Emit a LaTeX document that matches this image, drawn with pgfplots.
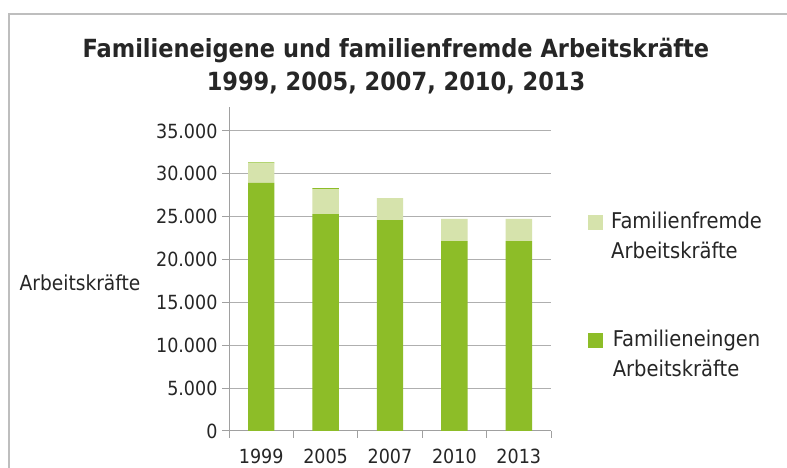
\documentclass[border=0pt]{standalone}
\usepackage{pgfplots}
\pgfplotsset{compat=1.18}
\usepackage{fontspec}
\setmainfont{DejaVu Sans Condensed}[BoldFont={DejaVu Sans Condensed Bold}]
\definecolor{darkg}{RGB}{141,189,40}
\definecolor{lightg}{RGB}{214,227,172}
\definecolor{gridc}{RGB}{175,175,175}
\definecolor{axc}{RGB}{160,160,160}
\definecolor{framec}{RGB}{190,190,190}
\definecolor{txt}{RGB}{38,38,38}
\begin{document}
\begin{tikzpicture}[x=1pt,y=1pt]
\clip (0,0) rectangle (787,468);
\fill[white] (0,0) rectangle (787,468);
\draw[framec, line width=1.6pt] (9,-20) rectangle (820,454);
\node[txt, font=\fontsize{25}{29}\selectfont\bfseries] at (396,417) {Familieneigene und familienfremde Arbeitskräfte};
\node[txt, font=\fontsize{25}{29}\selectfont\bfseries] at (396,385) {1999, 2005, 2007, 2010, 2013};
\node[txt, font=\fontsize{20.7}{24}\selectfont] at (80,185) {Arbeitskräfte};
\begin{axis}[
  at={(229pt,37pt)}, anchor=south west,
  scale only axis, width=322pt, height=324.1pt,
  xmin=-0.5, xmax=4.5, ymin=0, ymax=37800,
  axis lines*=left,
  axis line style={axc, line width=1pt, -},
  ybar stacked, bar width=26.4pt,
  xtick={0,1,2,3,4},
  xticklabels={1999,2005,2007,2010,2013},
  major x tick style={draw=none},
  minor xtick={-0.5,0.5,1.5,2.5,3.5,4.5},
  minor x tick style={axc, line width=1pt},
  minor tick length=7pt,
  ytick={0,5000,10000,15000,20000,25000,30000,35000},
  yticklabels={0,5.000,10.000,15.000,20.000,25.000,30.000,35.000},
  major y tick style={axc, line width=1pt},
  major tick length=7pt,
  tick align=outside,
  ymajorgrids, grid style={gridc, line width=1pt},
  scaled ticks=false,
  /pgf/number format/assume math mode=true,
  ticklabel style={txt, font=\fontsize{19.5}{23}\selectfont},
  xticklabel style={yshift=-7pt},
  yticklabel style={xshift=-1pt},
  reverse legend,
  legend style={at={(axis description cs:1.115,0.676)}, anchor=north west,
    draw=none, fill=none, inner sep=0pt,
    font=\fontsize{21.7}{30}\selectfont, text=txt,
    nodes={inner sep=0pt, align=left},
    row sep=70pt,
    /tikz/every odd column/.append style={column sep=8pt}},
  legend image code/.code={\fill[#1] (0pt,6pt) rectangle (15pt,21pt);},
]
\addplot[fill=darkg, draw=none] coordinates {(0,28950) (1,25300) (2,24600) (3,22150) (4,22150)};
\addlegendentry{Familieneingen\\Arbeitskräfte}
\addplot[fill=lightg, draw=none] coordinates {(0,2260) (1,2910) (2,2570) (3,2580) (4,2580)};
\addlegendentry{Familienfremde\\Arbeitskräfte}
\addplot[fill=darkg, draw=none, forget plot] coordinates {(0,130) (1,130) (2,0) (3,0) (4,0)};
\end{axis}
\end{tikzpicture}
\end{document}
